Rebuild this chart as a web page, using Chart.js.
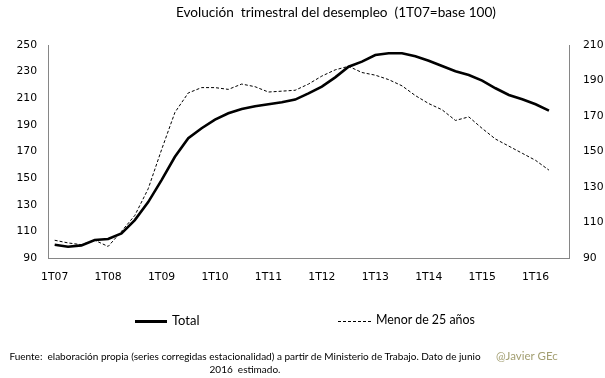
<!DOCTYPE html>
<html>
<head>
<meta charset="utf-8">
<script src="https://cdn.jsdelivr.net/npm/chart.js@4.4.1/dist/chart.umd.min.js"></script>
<style>
  html, body { margin: 0; padding: 0; background: #fff; }
  #wrap { position: relative; width: 605px; height: 378px; overflow: hidden; background: #fff; }
  canvas { position: absolute; left: 0; top: 0; }
  .txt { position: absolute; font-family: Lato, "Open Sans", sans-serif; color: #000; white-space: nowrap; line-height: 1; }
</style>
</head>
<body>
<div id="wrap">
  <canvas id="c" width="605" height="378"></canvas>
  <div class="txt" id="title" style="left:176px; top:6px; font-size:13.6px;">Evolución&nbsp; trimestral del desempleo&nbsp; (1T07=base 100)</div>
  <div style="position:absolute; left:135px; top:320px; width:32px; height:2.5px; background:#000;"></div>
  <div class="txt" id="legTotal" style="left:172px; top:314px; font-size:13px;">Total</div>
  <svg style="position:absolute; left:336px; top:316px;" width="36" height="10">
    <line x1="2" y1="5.5" x2="35" y2="5.5" stroke="#000" stroke-width="1" stroke-dasharray="3,2"/>
  </svg>
  <div class="txt" id="legMenor" style="left:376px; top:314px; font-size:12.4px;">Menor de 25 años</div>
  <div class="txt" id="foot" style="left:0px; width:490px; top:350px; font-size:10px; text-align:center; line-height:12.5px;">Fuente:&nbsp; elaboración propia (series corregidas estacionalidad) a partir de Ministerio de Trabajo. Dato de junio<br>2016&nbsp; estimado.</div>
  <div class="txt" id="sig" style="left:496px; top:350px; font-size:11.5px; color:#a39f72;">@Javier GEc</div>
</div>
<script>
// Quarterly categories (last one empty, as in the original axis)
const quarters = [
  '1T07','2T07','3T07','4T07','1T08','2T08','3T08','4T08',
  '1T09','2T09','3T09','4T09','1T10','2T10','3T10','4T10',
  '1T11','2T11','3T11','4T11','1T12','2T12','3T12','4T12',
  '1T13','2T13','3T13','4T13','1T14','2T14','3T14','4T14',
  '1T15','2T15','3T15','4T15','1T16','2T16','3T16'
];
const tickLabels = ['1T07','1T08','1T09','1T10','1T11','1T12','1T13','1T14','1T15','1T16'];
const leftTicks = [90, 110, 130, 150, 170, 190, 210, 230, 250];
const rightTicks = [90, 110, 130, 150, 170, 190, 210];

const total = [
  100, 98.5, 99.5, 103.5, 104.3, 108.5, 118.5, 132,
  148.5, 166, 180, 187.5, 194, 198.7, 202, 204,
  205.5, 207, 209, 213.7, 218.7, 225.7, 233.7, 237.5,
  242.5, 243.8, 243.8, 241.5, 238.2, 234.2, 230.3, 227.5,
  223.2, 217.5, 212.5, 209.2, 205.5, 200.7
];
const menor25 = [
  100, 98.5, 97.5, 100, 96.5, 105, 114, 129,
  151, 172, 183, 186, 186, 185, 188, 186.5,
  183.5, 184, 184.5, 188, 192.5, 196, 198, 194.5,
  193, 190.5, 187, 181.5, 177, 173.5, 167.5, 169.5,
  163, 157, 153, 149, 145, 139.5
];

const tickFont = { family: 'DejaVu Sans', size: 10.8 };
const axisColor = '#868686';

new Chart(document.getElementById('c'), {
  type: 'line',
  data: {
    labels: quarters,
    datasets: [
      {
        label: 'Total',
        data: total,
        yAxisID: 'y',
        borderColor: '#000',
        borderWidth: 2.6,
        pointRadius: 0,
        tension: 0,
        fill: false
      },
      {
        label: 'Menor de 25 años',
        data: menor25,
        yAxisID: 'y1',
        borderColor: '#000',
        borderWidth: 1,
        borderDash: [3, 2],
        pointRadius: 0,
        tension: 0,
        fill: false
      }
    ]
  },
  options: {
    responsive: false,
    animation: false,
    devicePixelRatio: 1,
    layout: { padding: { top: 45, left: 0, right: 0, bottom: 0 } },
    plugins: { legend: { display: false }, title: { display: false }, tooltip: { enabled: false } },
    scales: {
      x: {
        type: 'category',
        offset: true,
        grid: { display: false, drawTicks: false },
        border: { color: axisColor, width: 1 },
        ticks: {
          autoSkip: false, maxRotation: 0, minRotation: 0, padding: 13,
          color: '#000', font: tickFont,
          callback: function (v, i) { const l = quarters[i]; return tickLabels.includes(l) ? l : ''; }
        },
        afterFit: function (s) { s.height = 120; }
      },
      y: {
        position: 'left',
        min: 90, max: 250,
        grid: { display: false, drawTicks: false },
        border: { color: axisColor, width: 1 },
        ticks: {
          stepSize: 20, padding: 11, color: '#000', font: tickFont,
          callback: function (v) { return leftTicks.includes(v) ? String(v) : ''; }
        },
        afterFit: function (s) { s.width = 48; }
      },
      y1: {
        position: 'right',
        min: 90, max: 210,
        grid: { display: false, drawTicks: false },
        border: { color: axisColor, width: 1 },
        ticks: {
          stepSize: 20, padding: 14, color: '#000', font: tickFont,
          callback: function (v) { return rightTicks.includes(v) ? String(v) : ''; }
        },
        afterFit: function (s) { s.width = 36; }
      }
    }
  }
});
</script>
</body>
</html>
